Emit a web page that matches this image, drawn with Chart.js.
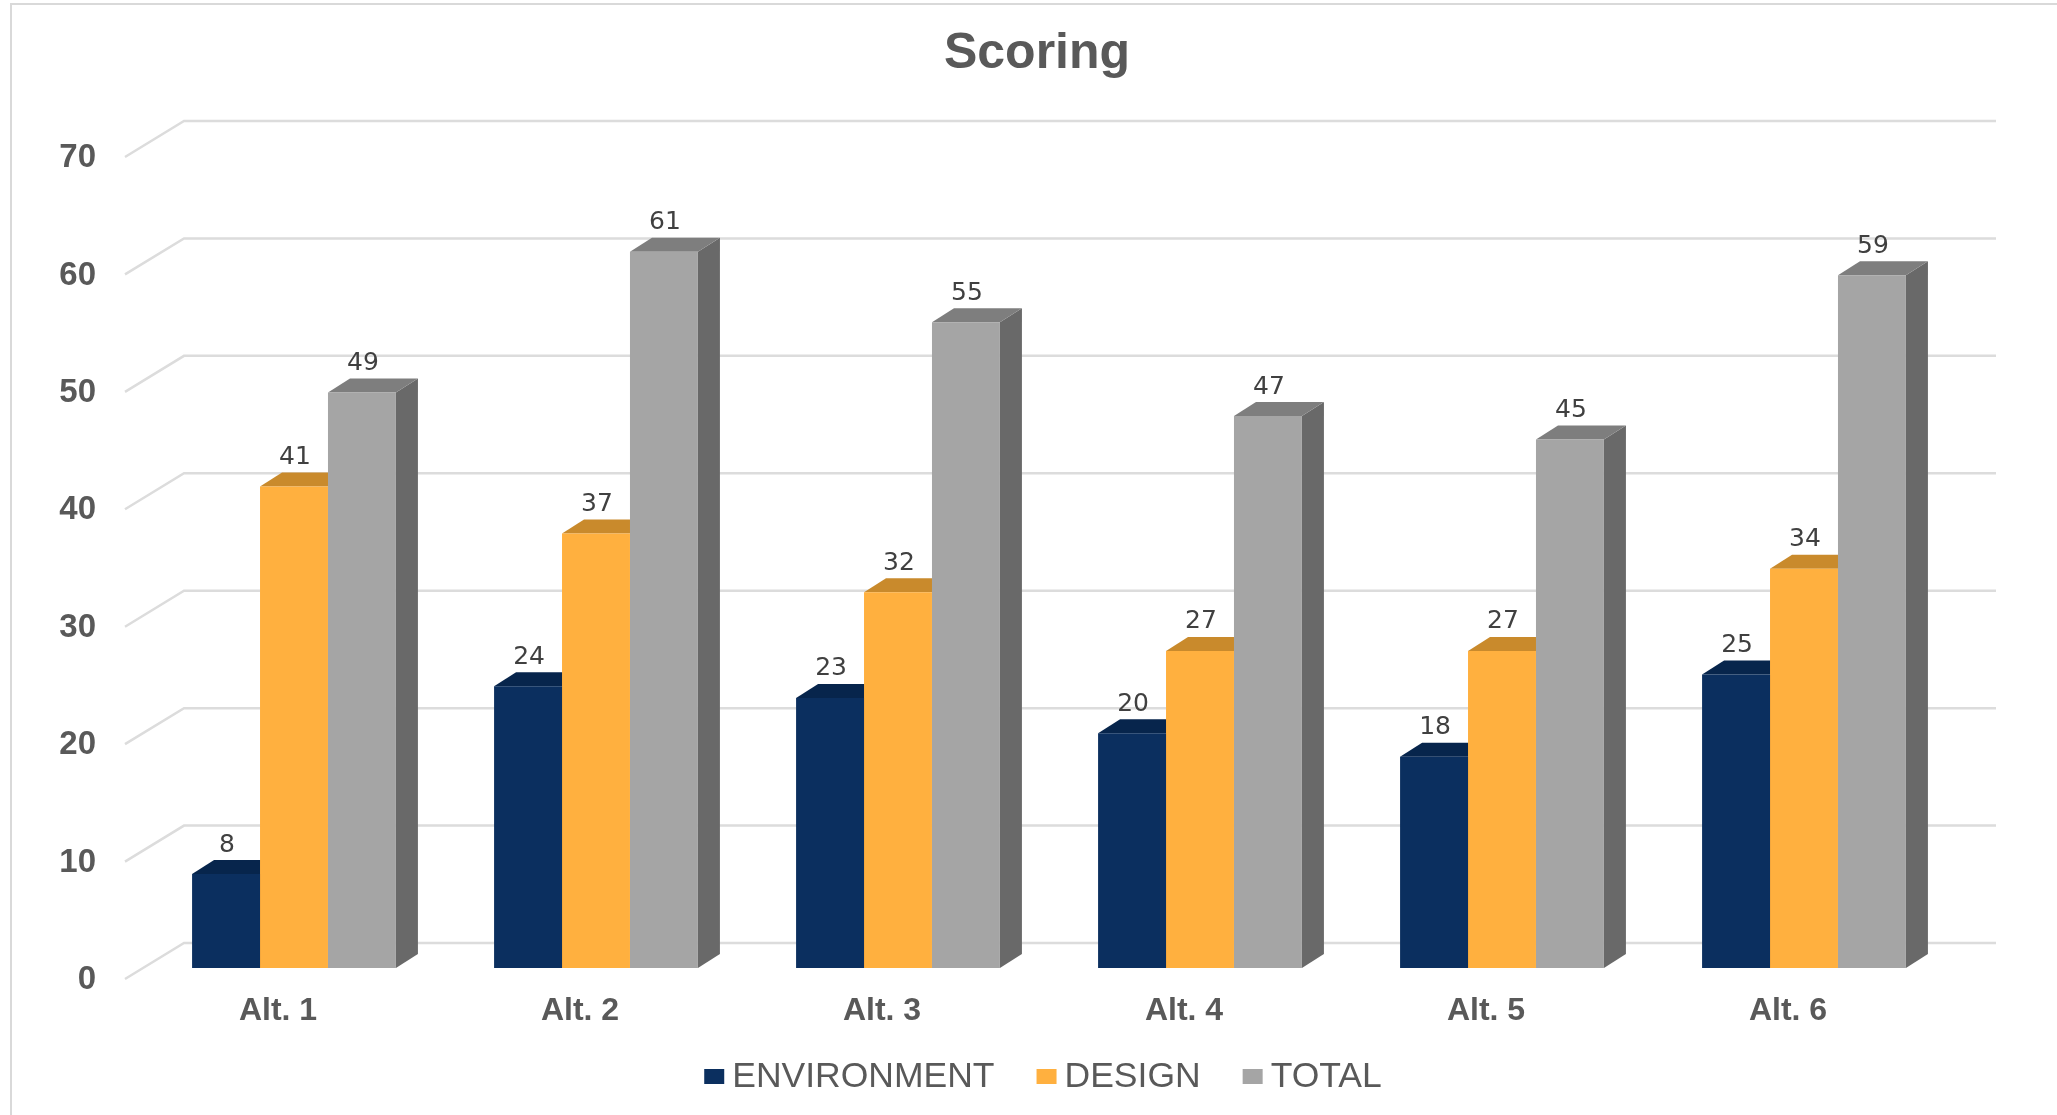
<!DOCTYPE html>
<html>
<head>
<meta charset="utf-8">
<title>Scoring</title>
<script src="https://cdn.jsdelivr.net/npm/chart.js@4/dist/chart.umd.min.js"></script>
<style>
  html, body { margin: 0; padding: 0; background: #fff; overflow: hidden; }
  #wrap { position: relative; width: 2057px; height: 1115px; }
  #frame { position: absolute; left: 10px; top: 3px; right: 0; bottom: 0; border-left: 2px solid #d9d9d9; border-top: 2px solid #d9d9d9; }
  canvas { position: absolute; left: 0; top: 0; filter: blur(0.6px); }
</style>
</head>
<body>
<div id="wrap">
  <div id="frame"></div>
  <canvas id="myChart" width="2057" height="1115"></canvas>
</div>
<script>
const categories = ["Alt. 1", "Alt. 2", "Alt. 3", "Alt. 4", "Alt. 5", "Alt. 6"];
const environment = [8, 24, 23, 20, 18, 25];
const design = [41, 37, 32, 27, 27, 34];
const total = [49, 61, 55, 47, 45, 59];

const frontColors = ["#0b2f5f", "#ffb03f", "#a5a5a5"];
const topColors = ["#07254c", "#c98a2c", "#7e7e7e"];
const sideColors = ["#06203f", "#a87324", "#696969"];

const textColor = "#595959";
const armFont = '"Liberation Sans", Arial, sans-serif';

function poly(ctx, color, pts) {
  ctx.fillStyle = color;
  ctx.beginPath();
  ctx.moveTo(pts[0][0], pts[0][1]);
  for (let i = 1; i < pts.length; i++) ctx.lineTo(pts[i][0], pts[i][1]);
  ctx.closePath();
  ctx.fill();
}

// fake 3d: floor and wall grid, then the top and side of every bar
const depthPlugin = {
  id: "depth",
  // the title sits over the whole frame, not over the padded plot
  afterLayout(chart) {
    chart.titleBlock.right = 2074;
  },
  beforeDatasetsDraw(chart) {
    const ctx = chart.ctx;
    const area = chart.chartArea;
    const y = chart.scales.y;
    ctx.save();
    ctx.strokeStyle = "#dcdcdc";
    ctx.lineWidth = 2.5;
    y.ticks.forEach((t) => {
      const py = y.getPixelForValue(t.value);
      ctx.beginPath();
      ctx.moveTo(area.left - 18, py + 11);
      ctx.lineTo(area.left + 41, py - 25);
      ctx.lineTo(area.right + 41, py - 25);
      ctx.stroke();
    });
    const dx = 22;
    const dy = 14;
    chart.data.datasets.forEach((ds, i) => {
      chart.getDatasetMeta(i).data.forEach((bar) => {
        const l = bar.x - bar.width / 2;
        const r = bar.x + bar.width / 2;
        poly(ctx, sideColors[i], [[r, bar.y], [r + dx, bar.y - dy], [r + dx, bar.base - dy], [r, bar.base]]);
        poly(ctx, topColors[i], [[l, bar.y], [l + dx, bar.y - dy], [r + dx, bar.y - dy], [r, bar.y]]);
      });
    });
    ctx.restore();
  },
  afterDatasetsDraw(chart) {
    const ctx = chart.ctx;
    ctx.save();
    ctx.font = '25px "DejaVu Sans", sans-serif';
    ctx.fillStyle = "#404040";
    ctx.textAlign = "center";
    ctx.textBaseline = "middle";
    chart.data.datasets.forEach((ds, i) => {
      chart.getDatasetMeta(i).data.forEach((bar, j) => {
        ctx.fillText(ds.data[j], bar.x + 1, bar.y - 29);
      });
    });
    ctx.restore();
  },
  // the built in legend keeps too wide a gap after the swatch
  afterDraw(chart) {
    const ctx = chart.ctx;
    const legendY = 1076;
    const gap = 8;
    const itemGap = 42;
    ctx.save();
    ctx.font = "35.5px " + armFont;
    ctx.textAlign = "left";
    ctx.textBaseline = "middle";
    const names = chart.data.datasets.map((ds) => ds.label);
    let width = itemGap * (names.length - 1);
    names.forEach((n) => { width += 20 + gap + ctx.measureText(n).width; });
    let x = 1043 - width / 2;
    names.forEach((n, i) => {
      ctx.fillStyle = frontColors[i];
      ctx.fillRect(x, legendY - 7, 20, 15);
      ctx.fillStyle = textColor;
      ctx.fillText(n, x + 20 + gap, legendY + 1);
      x += 20 + gap + ctx.measureText(n).width + itemGap;
    });
    ctx.restore();
  }
};

new Chart(document.getElementById("myChart").getContext("2d"), {
  type: "bar",
  data: {
    labels: categories,
    datasets: [
      { label: "ENVIRONMENT", data: environment, backgroundColor: frontColors[0] },
      { label: "DESIGN", data: design, backgroundColor: frontColors[1] },
      { label: "TOTAL", data: total, backgroundColor: frontColors[2] }
    ]
  },
  options: {
    responsive: false,
    devicePixelRatio: 1,
    animation: false,
    categoryPercentage: 0.675,
    barPercentage: 1,
    layout: { padding: { left: 0, right: 102, top: 0, bottom: 0 } },
    plugins: {
      legend: { display: false },
      tooltip: { enabled: false },
      title: {
        display: true,
        text: "Scoring",
        color: textColor,
        font: { family: armFont, size: 50, weight: "bold" },
        padding: { top: 24, bottom: 62 }
      }
    },
    scales: {
      x: {
        grid: { display: false, drawTicks: false },
        border: { display: false },
        ticks: {
          color: textColor,
          font: { family: armFont, size: 32, weight: "bold" },
          padding: 24,
          labelOffset: -16,
          maxRotation: 0
        },
        afterFit(scale) { scale.height = 147; }
      },
      y: {
        min: 0,
        max: 70,
        grid: { display: false, drawTicks: false },
        border: { display: false },
        ticks: {
          stepSize: 10,
          color: textColor,
          font: { family: armFont, size: 33, weight: "bold" },
          padding: 47,
          labelOffset: 12
        },
        afterFit(scale) { scale.width = 143; }
      }
    }
  },
  plugins: [depthPlugin]
});
</script>
</body>
</html>
